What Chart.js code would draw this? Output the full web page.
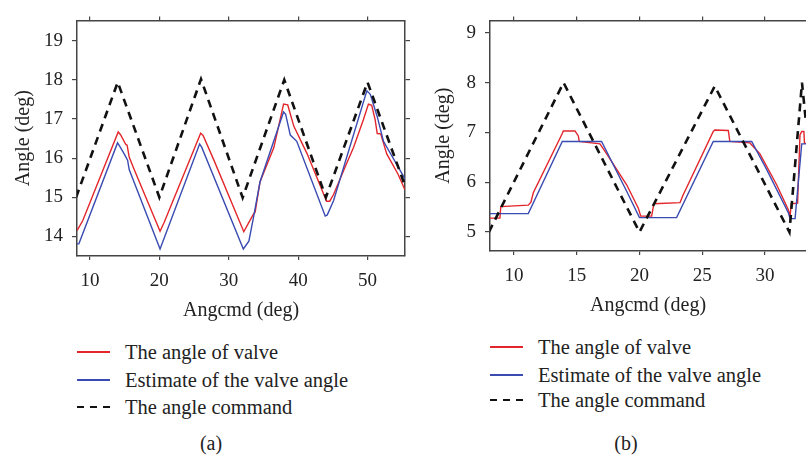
<!DOCTYPE html>
<html>
<head>
<meta charset="utf-8">
<script src="https://cdn.jsdelivr.net/npm/chart.js@4.4.1/dist/chart.umd.min.js"></script>
<style>
    body { margin: 0; background: #fff; width: 806px; height: 460px; overflow: hidden; position: relative;
           font-family: 'Liberation Serif', 'Times New Roman', serif; color: #222; }
    canvas { position: absolute; top: 0; }
    #chartA { left: 0; }
    #chartB { left: 420px; }
    .legend { position: absolute; font-size: 20.5px; }
    .row { position: absolute; left: 0; height: 24px; white-space: nowrap; }
    .swatch { position: absolute; left: 0; top: 11px; width: 33px; height: 1.5px; }
    .swatch.dash { top: 10.5px; height: 2.5px; background: repeating-linear-gradient(to right, #111 0 7px, transparent 7px 13px); }
    .row span { position: absolute; left: 48px; top: 0; line-height: 24px; }
    .caption { position: absolute; top: 431px; font-size: 20px; line-height: 24px; transform: translateX(-50%); }
</style>
</head>
<body>
<canvas id="chartA" width="420" height="330"></canvas>
<canvas id="chartB" width="386" height="325"></canvas>

<div class="legend" id="legendA" style="left:77px; top:0"></div>
<div class="legend" id="legendB" style="left:490px; top:0"></div>
<div class="caption" style="left:211px">(a)</div>
<div class="caption" style="left:626px">(b)</div>

<script>
const fontFamily = "'Liberation Serif', 'Times New Roman', serif"
const valveColor = '#e3262b'
const estimateColor = '#3a4bb2'
const commandColor = '#111111'
const frameColor = '#444444'

const seriesNames = ['The angle of valve', 'Estimate of the valve angle', 'The angle command']
const xTitle = 'Angcmd (deg)'
const yTitle = 'Angle (deg)'

// ---- panel (a)
const xTicksA = [10, 20, 30, 40, 50]
const yTicksA = [14, 15, 16, 17, 18, 19]
const cmdXA = [8, 14, 20, 26, 32, 38, 44, 50, 56]
const cmdYA = [15, 17.94, 15, 18.02, 14.99, 18, 15, 17.94, 15]
const valveXA = [8.13, 8.95, 14.07, 14.4, 15.17, 15.35, 15.65, 16.37, 20.1, 20.7, 25.95, 26.3, 27.86, 32.17, 32.9, 33.6, 33.8,
    34.5, 36.5, 37.9, 38.5, 39.37, 41.3, 44.1, 44.55, 45.1, 47.0, 47.98, 49.4, 50.13, 50.6, 51.1, 51.4, 51.9, 52.77, 54.4, 55.4]
const valveYA = [14.15, 14.4, 16.67, 16.6, 16.35, 16.33, 16.03, 15.71, 14.13, 14.36, 16.64, 16.58, 15.95, 14.12, 14.36, 14.58, 14.62,
    15.39, 16.27, 17.38, 17.36, 16.82, 16.11, 14.9, 14.9, 15.07, 15.87, 16.27, 16.98, 17.38, 17.35, 16.98, 16.63, 16.62, 16.11, 15.59, 15.19]
const estimateXA = [8.13, 8.4, 13.97, 14.3, 14.93, 15.42, 15.65, 20.1, 25.8, 26.1, 32.1, 32.9, 33.6, 34.5, 37.9, 38.2, 38.87,
    39.8, 43.9, 44.2, 45.1, 49.9, 50.4, 51.4, 52.3, 55.4]
const estimateYA = [13.81, 13.81, 16.39, 16.3, 16.11, 15.95, 15.71, 13.68, 16.36, 16.28, 13.68, 13.88, 14.52, 15.39, 17.18, 17.12, 16.59,
    16.43, 14.52, 14.55, 14.91, 17.72, 17.63, 17.06, 16.43, 15.47]

// ---- panel (b)
const xTicksB = [10, 15, 20, 25, 30]
const yTicksB = [5, 6, 7, 8, 9]
const cmdXB = [8, 13.95, 20, 26, 31.95, 32.95, 33.27]
const cmdYB = [5, 8, 5, 7.93, 5, 8, 7.2]
const valveXB = [8.09, 8.88, 8.95, 11.14, 11.35, 11.54, 13.85, 13.93, 14.86, 15.13, 15.2, 16.85, 17.39, 18.98, 19.91, 20.1, 20.97,
    21.15, 23.23, 23.45, 25.88, 26.0, 27.08, 27.2, 28.8, 29.6, 30.93, 31.86, 32.0, 32.1, 32.6, 32.79, 32.93, 33.1, 33.15, 33.27]
const valveYB = [5.28, 5.28, 5.51, 5.54, 5.6, 5.79, 6.98, 7.03, 7.03, 6.93, 6.82, 6.77, 6.57, 5.95, 5.48, 5.32, 5.32,
    5.57, 5.59, 5.73, 7.02, 7.05, 7.04, 6.82, 6.79, 6.57, 5.95, 5.45, 5.32, 5.57, 5.58, 6.95, 7.02, 7.02, 6.78, 6.78]
const estimateXB = [8.09, 11.14, 13.85, 16.98, 18.98, 20.0, 22.96, 25.88, 28.94, 30.13, 31.86, 32.0, 32.4, 32.93, 33.27]
const estimateYB = [5.37, 5.37, 6.82, 6.82, 5.82, 5.29, 5.29, 6.82, 6.82, 6.26, 5.39, 5.27, 5.27, 6.77, 6.77]

const points = (xs, ys) => xs.map((x, i) => ({ x, y: ys[i] }))
const setTicks = values => scale => { scale.ticks = values.map(value => ({ value })) }

function frameAxis(position, min, max, values, size, tickLength) {
    return {
        type: 'linear', position, min, max,
        afterBuildTicks: setTicks(values),
        afterFit: scale => { if (scale.isHorizontal()) scale.height = size; else scale.width = size },
        ticks: { display: false },
        grid: { drawOnChartArea: false, tickLength, color: frameColor, lineWidth: 1.2 },
        border: { color: frameColor, width: 1.5 }
    }
}

function buildChart(id, { xMin, xMax, yMin, yMax, xTicks, yTicks, cmd, valve, estimate, box }) {
    const tickFont = { family: fontFamily, size: 19 }
    const titleFont = { family: fontFamily, size: 20 }
    const scales = {
        x: {
            type: 'linear', position: 'bottom', min: xMin, max: xMax,
            afterBuildTicks: setTicks(xTicks),
            afterFit: scale => { scale.height = box.bottom },
            ticks: { font: tickFont, color: '#222', padding: 10, maxRotation: 0, autoSkip: false },
            grid: { drawOnChartArea: false, tickLength: 4, color: frameColor, lineWidth: 1.2 },
            border: { color: frameColor, width: 1.5 },
            title: { display: true, text: xTitle, font: titleFont, color: '#222', padding: { top: 0, bottom: 7 } }
        },
        xTop: frameAxis('top', xMin, xMax, xTicks, box.top, 4),
        y: {
            type: 'linear', position: 'left', min: yMin, max: yMax,
            afterBuildTicks: setTicks(yTicks),
            afterFit: scale => { scale.width = box.left },
            ticks: { font: tickFont, color: '#222', padding: 9 },
            grid: { drawOnChartArea: false, tickLength: 5, color: frameColor, lineWidth: 1.2 },
            border: { color: frameColor, width: 1.5 },
            title: { display: true, text: yTitle, font: titleFont, color: '#222', padding: { top: 12, bottom: 0 } }
        }
    }
    if (box.right) scales.yRight = frameAxis('right', yMin, yMax, yTicks, box.right, 5)

    const line = { pointRadius: 0, tension: 0, fill: false }
    return new Chart(document.getElementById(id), {
        type: 'line',
        data: {
            datasets: [
                { ...line, label: seriesNames[2], data: points(cmd[0], cmd[1]), borderColor: commandColor, borderWidth: 2.6, borderDash: [8, 6] },
                { ...line, label: seriesNames[1], data: points(estimate[0], estimate[1]), borderColor: estimateColor, borderWidth: 1.4 },
                { ...line, label: seriesNames[0], data: points(valve[0], valve[1]), borderColor: valveColor, borderWidth: 1.4 }
            ]
        },
        options: {
            responsive: false,
            animation: false,
            layout: { padding: 0, autoPadding: false },
            plugins: { legend: { display: false }, tooltip: { enabled: false } },
            scales
        }
    })
}

buildChart('chartA', {
    xMin: 8.13, xMax: 55.4, yMin: 13.5, yMax: 19.52, xTicks: xTicksA, yTicks: yTicksA,
    cmd: [cmdXA, cmdYA], valve: [valveXA, valveYA], estimate: [estimateXA, estimateYA],
    box: { left: 77, right: 15, top: 4, bottom: 74 }
})
buildChart('chartB', {
    xMin: 8.09, xMax: 33.27, yMin: 4.62, yMax: 9.25, xTicks: xTicksB, yTicks: yTicksB,
    cmd: [cmdXB, cmdYB], valve: [valveXB, valveYB], estimate: [estimateXB, estimateYB],
    box: { left: 70, right: 0, top: 4, bottom: 74 }
})

// legends (html, same series names and colours)
function buildLegend(id, rowCenters) {
    const el = document.getElementById(id)
    const swatches = [
        `<div class="swatch" style="background:${valveColor}"></div>`,
        `<div class="swatch" style="background:${estimateColor}"></div>`,
        `<div class="swatch dash"></div>`
    ]
    el.innerHTML = seriesNames.map((name, i) =>
        `<div class="row" style="top:${rowCenters[i] - 12}px">${swatches[i]}<span>${name}</span></div>`).join('')
}
buildLegend('legendA', [352, 380, 407])
buildLegend('legendB', [347, 375, 400])
</script>
</body>
</html>
